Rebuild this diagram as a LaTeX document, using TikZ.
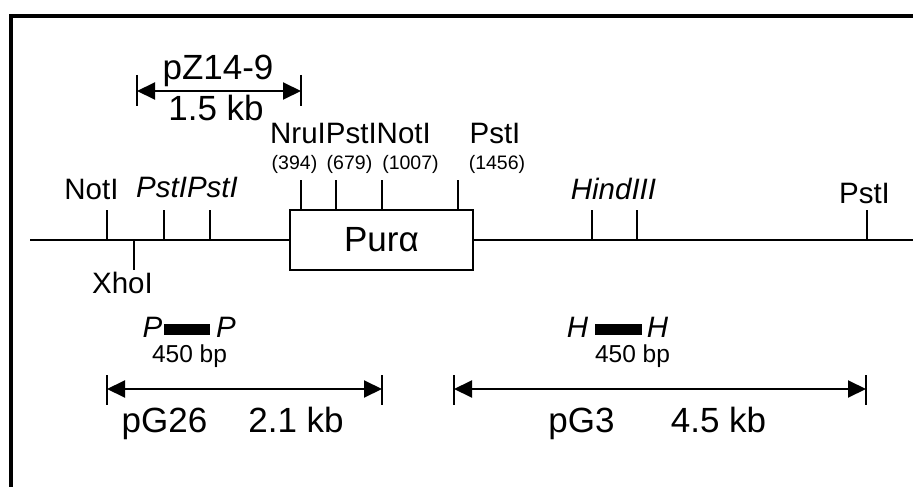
\documentclass[tikz,border=0pt]{standalone}
\usepackage{fontspec}
\setmainfont{Liberation Sans}
\usetikzlibrary{arrows.meta}
\begin{document}
\begin{tikzpicture}[x=1pt,y=-1pt,
  big/.style={font=\fontsize{35}{37}\selectfont, inner sep=0pt, anchor=base},
  site/.style={font=\fontsize{29.5}{31}\selectfont, inner sep=0pt, anchor=base},
  isite/.style={site, font=\fontsize{29.5}{31}\selectfont\itshape},
  coord/.style={font=\fontsize{19.5}{21}\selectfont, inner sep=0pt, anchor=base},
  bp/.style={font=\fontsize{24.5}{26}\selectfont, inner sep=0pt, anchor=base},
  dna/.style={line width=2pt},
  cut/.style={line width=2pt},
  span/.style={line width=2pt, {Triangle[length=18pt,width=17pt]}-{Triangle[length=18pt,width=17pt]}},
  endbar/.style={line width=1.5pt},
  probe/.style={fill=black, draw=none, inner sep=0pt, minimum width=46pt, minimum height=11pt}]

\useasboundingbox (0,0) rectangle (913,487);
\clip (0,0) rectangle (913,487);

% outer frame
\draw[line width=4pt] (11,16) rectangle (950,530);

% ---------------- genomic map ----------------
\node[draw, line width=2pt, minimum width=183pt, minimum height=60pt, inner sep=0pt,
      font=\fontsize{35}{37}\selectfont] (pur) at (381.5,240) {Purα};
\coordinate (mapL) at (30,240);
\coordinate (mapR) at (930,240);
\draw[dna] (mapL) -- (pur.west);
\draw[dna] (pur.east) -- (mapR);

% cut sites on the line (upward ticks)
\foreach \n/\x in {notIa/107, pstIa/164, pstIb/210, hindA/592, hindB/637, pstIz/867}{
  \coordinate (\n-b) at (\x,240);
  \coordinate (\n-t) at (\x,210);
  \draw[cut] (\n-b) -- (\n-t);
}
% XhoI (downward tick)
\coordinate (xhoI-b) at (134,240);
\coordinate (xhoI-t) at (134,270);
\draw[cut] (xhoI-b) -- (xhoI-t);

% cut sites inside Pur-alpha
\foreach \n/\x in {nruI/301, pstIc/336, notIb/382, pstId/458}{
  \coordinate (\n-b) at (\x,210);
  \coordinate (\n-t) at (\x,180);
  \draw[cut] (\n-b) -- (\n-t);
}

% site labels
\node[site]  (lNotIa) at (91.5,199) {NotI};
\node[isite] (lPstIab) at (187,197) {PstIPstI};
\node[site]  (lXhoI) at (122.5,293) {XhoI};
\node[site]  (lNruPstNot) at (350.5,143) {NruIPstINotI};
\node[site]  (lPstId) at (495,143) {PstI};
\node[isite] (lHind) at (613.5,199) {HindIII};
\node[site]  (lPstIz) at (864.5,203) {PstI};

% positions within the cDNA
\node[coord] (n394)  at (294.5,169) {(394)};
\node[coord] (n679)  at (349.5,169) {(679)};
\node[coord] (n1007) at (410.5,169) {(1007)};
\node[coord] (n1456) at (497,169) {(1456)};

% ---------------- pZ14-9 ----------------
\coordinate (zL) at (137,91);
\coordinate (zR) at (301,91);
\draw[endbar] (137,75) -- (137,106);
\draw[endbar] (301,75) -- (301,106);
\draw[span] (zL) -- (zR);
\node[big] (zName) at (218,80) {pZ14-9};
\node[big] (zSize) at (216,121) {1.5 kb};

% ---------------- probes ----------------
\node[probe] (probeP) at (186.5,329.5) {};
\node[isite] (pL) at (152.5,337) {P};
\node[isite] (pR) at (226,337) {P};
\node[bp] (pSize) at (189.5,362) {450 bp};

\node[probe, minimum width=47pt] (probeH) at (618.5,329.5) {};
\node[isite] (hL) at (577.5,337) {H};
\node[isite] (hR) at (657.5,337) {H};
\node[bp] (hSize) at (632.5,362) {450 bp};

% ---------------- pG26 ----------------
\coordinate (g26L) at (107,389);
\coordinate (g26R) at (382,389);
\draw[endbar] (107,375) -- (107,405);
\draw[endbar] (382,375) -- (382,405);
\draw[span] (g26L) -- (g26R);
\node[big] (g26Name) at (164.5,432) {pG26};
\node[big] (g26Size) at (296,432) {2.1 kb};

% ---------------- pG3 ----------------
\coordinate (g3L) at (454,389);
\coordinate (g3R) at (866,389);
\draw[endbar] (454,375) -- (454,405);
\draw[endbar] (866,375) -- (866,405);
\draw[span] (g3L) -- (g3R);
\node[big] (g3Name) at (581.5,432) {pG3};
\node[big] (g3Size) at (718.5,432) {4.5 kb};
\end{tikzpicture}
\end{document}
